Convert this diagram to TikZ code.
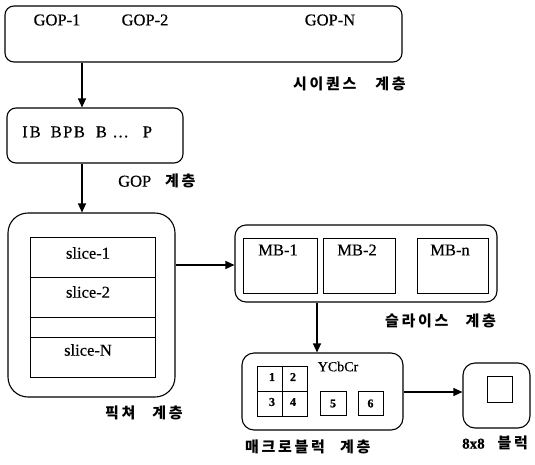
\documentclass[tikz,border=0pt]{standalone}
\usepackage{fontspec}
\setmainfont{Liberation Serif}[FakeBold=0.5]
\newfontfamily\kr{Noto Sans CJK KR}[LetterSpace=18]
\usetikzlibrary{arrows.meta}
\begin{document}
\begin{tikzpicture}[x=1pt,y=1pt,
  outer/.style={draw,line width=1.1pt,rounded corners=#1,inner sep=0pt},
  outer/.default=9pt,
  inbox/.style={draw,line width=0.9pt,inner sep=0pt},
  arr/.style={line width=1.1pt,-{Triangle[length=9pt,width=8pt]}},
  txt/.style={font=\fontsize{16.5}{16.5}\selectfont,inner sep=0pt},
  klab/.style={font=\kr\bfseries\fontsize{15}{15}\selectfont,inner sep=0pt,anchor=west},
  dig/.style={font=\bfseries\fontsize{12}{12}\selectfont,inner sep=0pt}]
\useasboundingbox (0,0) rectangle (535,-464);
% sequence layer
\node[outer,minimum width=397pt,minimum height=56pt] (seq) at (203.5,-34) {};
\node[txt] (g1) at (57,-20) {GOP-1};
\node[txt] (g2) at (145,-20) {GOP-2};
\node[txt] (gn) at (330,-20) {GOP-N};
\node[klab] (lseq) at (293,-84) {시이퀀스\hspace{19pt}계층};
% GOP layer
\node[outer,minimum width=176pt,minimum height=55pt] (gop) at (95,-135.5) {};
\node[txt,anchor=west] (gtxt) at (22,-132) {I\hspace{2pt}B\hspace{10pt}B\hspace{1.5pt}P\hspace{1.5pt}B\hspace{11pt}B\hspace{5.5pt}…\hspace{14pt}P};
\node[txt,anchor=west] (lgop) at (118,-181) {GOP\hspace{14pt}{\kr\bfseries\fontsize{15}{15}\selectfont 계층}};
% picture layer
\node[outer=20pt,minimum width=167pt,minimum height=184pt] (pic) at (91.5,-305) {};
\node[inbox,minimum width=125pt,minimum height=40pt] (s1) at (92.5,-257) {};
\node[inbox,minimum width=125pt,minimum height=40pt] (s2) at (92.5,-297) {};
\node[inbox,minimum width=125pt,minimum height=20pt] (s3) at (92.5,-327) {};
\node[inbox,minimum width=125pt,minimum height=40pt] (sn) at (92.5,-357) {};
\node[txt] (t1) at (88,-253) {slice-1};
\node[txt] (t2) at (88,-292) {slice-2};
\node[txt] (tn) at (88,-350) {slice-N};
\node[klab] (lpic) at (105,-413) {픽쳐\hspace{17pt}계층};
% slice layer
\node[outer=11pt,minimum width=262pt,minimum height=77pt] (slc) at (366,-263.5) {};
\node[inbox,minimum width=74pt,minimum height=55pt] (mb1) at (280,-265.5) {};
\node[inbox,minimum width=72pt,minimum height=55pt] (mb2) at (359,-265.5) {};
\node[inbox,minimum width=71pt,minimum height=55pt] (mbn) at (452.5,-265.5) {};
\node[txt] (tm1) at (278,-250) {MB-1};
\node[txt] (tm2) at (357,-250) {MB-2};
\node[txt] (tmn) at (450,-250) {MB-n};
\node[klab] (lslc) at (385,-321) {슬라이스\hspace{17pt}계층};
% macroblock layer
\node[outer=12pt,minimum width=161pt,minimum height=77pt] (mb) at (322.5,-391.5) {};
\node[txt,font=\fontsize{14}{14}\selectfont] (ycc) at (338,-366.5) {YCbCr};
\node[inbox,minimum size=25pt] (c1) at (270,-379) {};
\node[inbox,minimum size=25pt] (c2) at (295,-379) {};
\node[inbox,minimum size=25pt] (c3) at (270,-404) {};
\node[inbox,minimum size=25pt] (c4) at (295,-404) {};
\node[dig] at (272,-377) {1};
\node[dig] at (293,-377) {2};
\node[dig] at (272,-402) {3};
\node[dig] at (293,-402) {4};
\node[inbox,minimum width=26pt,minimum height=24pt] (c5) at (333,-403.5) {};
\node[inbox,minimum width=25pt,minimum height=24pt] (c6) at (370.5,-403.5) {};
\node[dig] at (c5) {5};
\node[dig] at (c6) {6};
\node[klab] (lmb) at (245,-447) {매크로블럭\hspace{15pt}계층};
% 8x8 block
\node[outer=12pt,minimum width=67pt,minimum height=65pt] (blk) at (496.5,-395.5) {};
\node[inbox,minimum width=25pt,minimum height=26pt] (sq) at (499.5,-389) {};
\node[anchor=west,inner sep=0pt] (lblk) at (462,-443) {{\bfseries\fontsize{15}{15}\selectfont 8x8}\hspace{13pt}{\kr\bfseries\fontsize{15}{15}\selectfont 블럭}};
% connectors
\draw[arr] (seq.south -| 82,0) -- (gop.north -| 82,0);
\draw[arr] (gop.south -| 82,0) -- (pic.north -| 82,0);
\draw[arr] (pic.east |- 0,-265) -- (slc.west |- 0,-265);
\draw[arr] (slc.south -| 317,0) -- (mb.north -| 317,0);
\draw[arr] (mb.east |- 0,-392) -- (blk.west |- 0,-392);
\end{tikzpicture}
\end{document}
